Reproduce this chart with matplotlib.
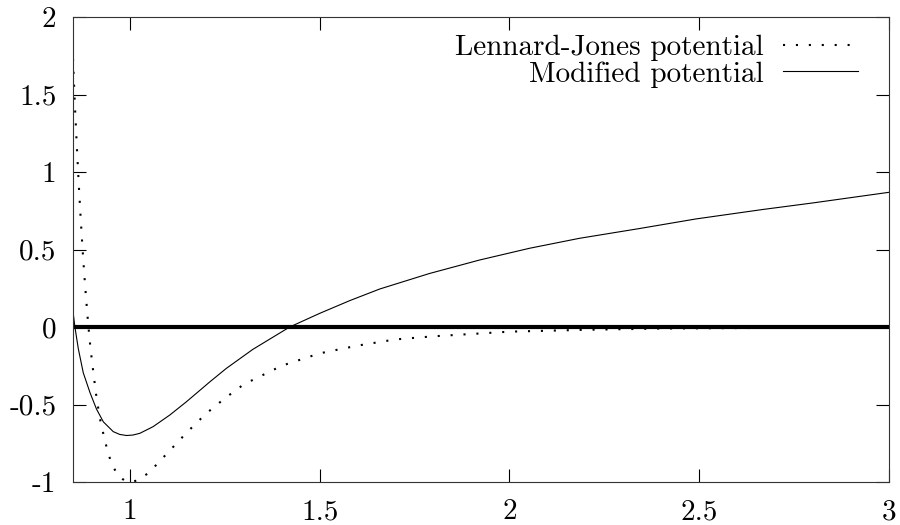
import matplotlib.pyplot as plt

# 字体: matplotlib 自带的 Computer Modern (cmr10)
plt.rcParams['font.family'] = ['cmr10', 'DejaVu Serif']
plt.rcParams['axes.unicode_minus'] = False
plt.rcParams['mathtext.fontset'] = 'cm'

# Lennard-Jones 势 (从图上读的点)
lj_r = [0.85, 0.855, 0.86, 0.865, 0.87, 0.875, 0.88, 0.885, 0.89, 0.895,
        0.90, 0.91, 0.92, 0.93, 0.94, 0.95, 0.96, 0.97, 0.98, 0.99, 1.00,
        1.02, 1.05, 1.10, 1.15, 1.20, 1.25, 1.30, 1.40, 1.50, 1.60, 1.70,
        1.80, 2.00, 2.20, 2.40, 2.60, 2.80, 3.00]
lj_v = [1.73, 1.43, 1.17, 0.93, 0.71, 0.51, 0.33, 0.17, 0.02, -0.11,
        -0.22, -0.42, -0.58, -0.69, -0.79, -0.87, -0.92, -0.96, -0.98, -0.996, -1.00,
        -0.99, -0.94, -0.81, -0.68, -0.56, -0.46, -0.37, -0.25, -0.17, -0.12, -0.08,
        -0.06, -0.03, -0.018, -0.010, -0.007, -0.004, -0.003]

# 修正后的势
mod_r = [0.851, 0.855, 0.864, 0.877, 0.895, 0.912, 0.93, 0.956, 0.973, 0.991,
         1.008, 1.026, 1.061, 1.105, 1.149, 1.211, 1.254, 1.324, 1.421, 1.50,
         1.579, 1.658, 1.789, 1.921, 2.053, 2.184, 2.342, 2.491, 2.667, 2.798, 3.0]
mod_v = [0.08, 0.0, -0.14, -0.295, -0.425, -0.53, -0.612, -0.675, -0.693, -0.70,
         -0.697, -0.686, -0.643, -0.568, -0.482, -0.353, -0.267, -0.144, 0.0, 0.088,
         0.17, 0.245, 0.345, 0.432, 0.508, 0.572, 0.635, 0.697, 0.758, 0.80, 0.869]

xticks = [1, 1.5, 2, 2.5, 3]
xtick_labels = ['1', '1.5', '2', '2.5', '3']
yticks = [-1, -0.5, 0, 0.5, 1, 1.5, 2]
ytick_labels = ['-1', '-0.5', '0', '0.5', '1', '1.5', '2']

fig = plt.figure(figsize=(9, 5.25), dpi=100)
ax = fig.add_axes([73 / 900, 1 - 482 / 525, 816 / 900, 465 / 525])

# 零线 (粗)
ax.axhline(0, color='black', lw=3, zorder=1)

ax.plot(lj_r, lj_v, color='black', lw=1.5, linestyle=(0, (1, 5.2)),
        dash_capstyle='butt', label='Lennard-Jones potential')
ax.plot(mod_r, mod_v, color='black', lw=0.8, label='Modified potential')

ax.set_xlim(0.85, 3)
ax.set_ylim(-1, 2)
ax.set_xticks(xticks)
ax.set_xticklabels(xtick_labels)
ax.set_yticks(yticks)
ax.set_yticklabels(ytick_labels)
ax.tick_params(direction='in', length=9.4, width=0.8, top=True, right=True,
               labelsize=21, color='black')
ax.tick_params(axis='x', pad=12)
ax.tick_params(axis='y', pad=12)
for s in ax.spines.values():
    s.set_linewidth(0.8)
    s.set_color('#333333')

ax.legend(loc='upper right', bbox_to_anchor=(0.962, 0.962), frameon=False,
          markerfirst=False, fontsize=21, handlelength=2.57, handletextpad=0.65,
          labelspacing=0.0, borderpad=0, borderaxespad=0)

fig.savefig('out.png', dpi=100)
